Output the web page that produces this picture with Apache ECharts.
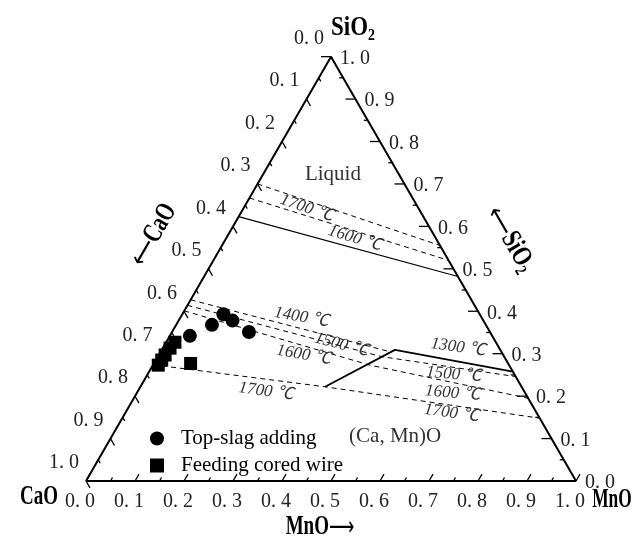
<!DOCTYPE html>
<html>
<head>
<meta charset="utf-8">
<script src="https://cdn.jsdelivr.net/npm/echarts@6/dist/echarts.min.js"></script>
<style>
html,body{margin:0;padding:0;background:#fff;}
#chart{width:638px;height:538px;}
</style>
</head>
<body>
<div id="chart"></div>
<script>
// ---------------- data: compositions as [CaO, MnO, SiO2] fractions ----------------
const tickValues = [0, 0.1, 0.2, 0.3, 0.4, 0.5, 0.6, 0.7, 0.8, 0.9, 1.0];
const minorTickValues = [0.05, 0.15, 0.25, 0.35, 0.45, 0.55, 0.65, 0.75, 0.85, 0.95];
const tickLabels = ['0. 0', '0. 1', '0. 2', '0. 3', '0. 4', '0. 5', '0. 6', '0. 7', '0. 8', '0. 9', '1. 0'];

const seriesNames = ['Top-slag adding', 'Feeding cored wire'];
const topSlagAdding = [
  [0.617, 0.041, 0.342],
  [0.559, 0.073, 0.368],
  [0.523, 0.084, 0.393],
  [0.512, 0.110, 0.378],
  [0.492, 0.157, 0.351]
];
const feedingCoredWire = [
  [0.655, 0.018, 0.327],
  [0.672, 0.015, 0.313],
  [0.690, 0.013, 0.297],
  [0.703, 0.012, 0.285],
  [0.716, 0.011, 0.273],
  [0.648, 0.075, 0.277]
];

// isotherms / phase boundaries
const iso1700Upper = [[0.300, 0, 0.700], [0, 0.445, 0.555]];
const isoUpperMid  = [[0.333, 0, 0.667], [0, 0.480, 0.520]];
const iso1600Upper = [[0.377, 0, 0.623], [0, 0.518, 0.482]];
const iso1400 = [[0.573, 0, 0.427], [0.224, 0.4725, 0.3035]];
const iso1500 = [[0.586, 0, 0.414], [0.250, 0.457, 0.293], [0, 0.754, 0.246]];
const iso1600 = [[0.599, 0, 0.401], [0.284, 0.443, 0.273], [0, 0.805, 0.195]];
const iso1700 = [[0.726, 0, 0.274], [0.401, 0.377, 0.222], [0, 0.852, 0.148]];
const boundary1300 = [[0.401, 0.377, 0.222], [0.215, 0.476, 0.309], [0, 0.742, 0.258]];

// region / isotherm labels: [text, composition]
const regionLabels = [
  ['Liquid', [0.135, 0.143, 0.722]],
  ['(Ca, Mn)O', [0.316, 0.578, 0.106]]
];
const tempLabels = [
  ['1700 ℃', [0.228, 0.129, 0.643], -19],
  ['1600 ℃', [0.165, 0.263, 0.572], -17],
  ['1400 ℃', [0.367, 0.247, 0.386], -10],
  ['1500 ℃', [0.318, 0.361, 0.321], -15],
  ['1600 ℃', [0.407, 0.296, 0.297], -10],
  ['1700 ℃', [0.527, 0.262, 0.211], -8],
  ['1300 ℃', [0.083, 0.602, 0.315], -8],
  ['1500 ℃', [0.124, 0.625, 0.251], -5],
  ['1600 ℃', [0.148, 0.645, 0.207], -5],
  ['1700 ℃', [0.174, 0.666, 0.160], -8]
];

// ---------------- helpers ----------------
const H = Math.sqrt(3) / 2;
function tern(p) { return [p[1] + p[2] / 2, p[2] * H]; }
const V_CaO = [1, 0, 0], V_MnO = [0, 1, 0], V_SiO2 = [0, 0, 1];

const SERIF = "'Liberation Serif', 'Noto Sans CJK SC', serif";
const ARROWF = "'DejaVu Sans', sans-serif";

function lineSeries(pts, dashed, width) {
  return {
    type: 'line', data: pts.map(tern), symbol: 'none', silent: true, z: 3,
    lineStyle: { color: '#000', width: width || 1, type: dashed ? [5, 4] : 'solid' }
  };
}

// ticks (axis: 0 bottom MnO, 1 left CaO, 2 right SiO2)
const tickMeta = [];
[0, 1, 2].forEach(ax => {
  tickValues.forEach((v, i) => tickMeta.push({ ax, v, major: true, label: tickLabels[i] }));
  minorTickValues.forEach(v => tickMeta.push({ ax, v, major: false }));
});
function tickPoint(ax, v) {
  if (ax === 0) return tern([1 - v, v, 0]);
  if (ax === 1) return tern([v, 0, 1 - v]);
  return tern([0, 1 - v, v]);
}
const TICK_DIR = [[0.5, -H], [0.5, H], [-1, 0]];
const TICK_LEN = [[8, 4], [8, 4], [10, 4]];
const LABEL_OFF = [[-6, 21], [-22, -18], [9, 2]];
const LABEL_ALIGN = ['center', 'center', 'left'];

const tickSeries = {
  type: 'custom', silent: true, z: 4,
  data: tickMeta.map(t => tickPoint(t.ax, t.v)),
  renderItem: function (params, api) {
    const t = tickMeta[params.dataIndex];
    const p = api.coord([api.value(0), api.value(1)]);
    const d = TICK_DIR[t.ax];
    const len = TICK_LEN[t.ax][t.major ? 0 : 1];
    const children = [{
      type: 'line',
      shape: { x1: p[0], y1: p[1], x2: p[0] + d[0] * len, y2: p[1] + d[1] * len },
      style: { stroke: '#000', lineWidth: 1.3 }
    }];
    if (t.label) {
      children.push({
        type: 'text', x: p[0] + LABEL_OFF[t.ax][0], y: p[1] + LABEL_OFF[t.ax][1],
        style: { text: t.label, fontFamily: SERIF, fontSize: 20, fill: '#222',
                 align: LABEL_ALIGN[t.ax], verticalAlign: 'middle' }
      });
    }
    return { type: 'group', children };
  }
};

// text annotations anchored on compositions
function textSeries(items) {
  return {
    type: 'custom', silent: true, z: 6,
    data: items.map(it => tern(it.at)),
    renderItem: function (params, api) {
      const it = items[params.dataIndex];
      const p = api.coord([api.value(0), api.value(1)]);
      return {
        type: 'text', x: p[0] + (it.dx || 0), y: p[1] + (it.dy || 0),
        rotation: (it.rot || 0) * Math.PI / 180,
        scaleX: it.sx || 1,
        style: Object.assign({ text: it.text, align: 'center', verticalAlign: 'middle' }, it.style)
      };
    }
  };
}

const titleStyle = {
  fontFamily: SERIF, fontSize: 28, fontWeight: 'bold', fill: '#000',
  rich: {
    m: { fontFamily: SERIF, fontSize: 28, fontWeight: 'bold', fill: '#000', verticalAlign: 'top' },
    s: { fontFamily: SERIF, fontSize: 17, fontWeight: 'bold', fill: '#000', verticalAlign: 'bottom', padding: [13, 0, 0, 0] },
    a: { fontFamily: ARROWF, fontSize: 26, fill: '#000', verticalAlign: 'top', padding: [2, 0, 0, 0] }
  }
};

const titles = [
  { text: '{m|CaO}', at: V_CaO, dx: -47, dy: 16, sx: 0.68, style: titleStyle },
  { text: '{m|MnO}', at: V_MnO, dx: 36, dy: 19, sx: 0.62, style: titleStyle },
  { text: '{m|SiO}{s|2}', at: V_SiO2, dx: 22, dy: -28, sx: 0.82, style: titleStyle },
  { text: '{m|MnO}{a|⟶}', at: [0.5, 0.5, 0], dx: -11, dy: 46, sx: 0.68, style: titleStyle },
  { text: '{a|⟵}{m|CaO}', at: [0.5, 0, 0.5], dx: -55, dy: -34, rot: 60, sx: 0.72, style: titleStyle },
  { text: '{a|⟵}{m|SiO}{s|2}', at: [0, 0.5, 0.5], dx: 56, dy: -29, rot: -60, sx: 0.78, style: titleStyle }
];

const regionItems = regionLabels.map(r => ({
  text: r[0], at: r[1],
  style: { fontFamily: SERIF, fontSize: 21, fill: '#333' }
}));
const tempItems = tempLabels.map(r => ({
  text: r[0], at: r[1], rot: r[2],
  style: { fontFamily: SERIF, fontSize: 17, fontStyle: 'italic', fill: '#333' }
}));

const chart = echarts.init(document.getElementById('chart'), null, { renderer: 'canvas' });
chart.setOption({
  animation: false,
  backgroundColor: '#fff',
  grid: { left: 86, top: 481 - 490 * H, width: 490, height: 490 * H },
  xAxis: { type: 'value', min: 0, max: 1, show: false },
  yAxis: { type: 'value', min: 0, max: H, show: false },
  legend: {
    orient: 'vertical', left: 145, top: 423, itemWidth: 14, itemHeight: 14, itemGap: 6,
    data: [{ name: seriesNames[0], icon: 'circle' }, { name: seriesNames[1], icon: 'rect' }],
    textStyle: { fontFamily: SERIF, fontSize: 21, lineHeight: 21, color: '#000', padding: [0, 0, 0, 12] },
    selectedMode: false
  },
  series: [
    { type: 'line', data: [V_CaO, V_MnO, V_SiO2, V_CaO].map(tern), symbol: 'none', silent: true, z: 5,
      lineStyle: { color: '#000', width: 2 } },
    tickSeries,
    lineSeries(iso1700Upper, true),
    lineSeries(isoUpperMid, true),
    lineSeries(iso1600Upper, false, 1.1),
    lineSeries(iso1400, true),
    lineSeries(iso1500, true),
    lineSeries(iso1600, true),
    lineSeries(iso1700, true),
    lineSeries(boundary1300, false, 1.8),
    { name: seriesNames[0], type: 'scatter', symbol: 'circle', symbolSize: 14, z: 8,
      itemStyle: { color: '#000', opacity: 1 }, data: topSlagAdding.map(tern) },
    { name: seriesNames[1], type: 'scatter', symbol: 'rect', symbolSize: 13, z: 8,
      itemStyle: { color: '#000', opacity: 1 }, data: feedingCoredWire.map(tern) },
    textSeries(titles),
    textSeries(regionItems),
    textSeries(tempItems)
  ]
});
</script>
</body>
</html>
